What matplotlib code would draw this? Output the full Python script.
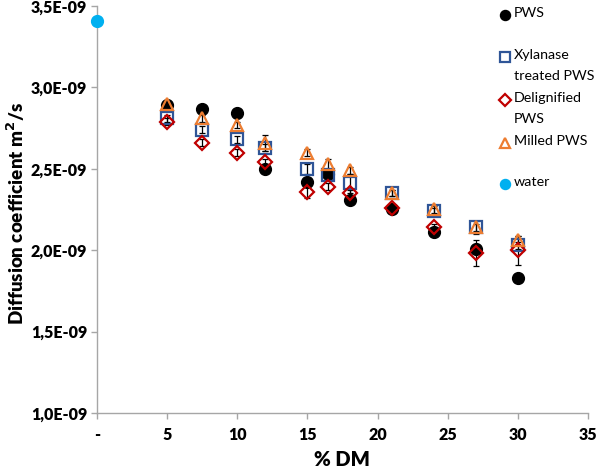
import matplotlib.pyplot as plt
from matplotlib.lines import Line2D
from matplotlib.ticker import FixedLocator, FixedFormatter

plt.rcParams['font.family'] = ['Lato', 'DejaVu Sans']

########################################
# data (diffusion coefficient, units of 1e-9 m2/s)

dm = [5, 7.5, 10, 12, 15, 16.5, 18, 21, 24, 27, 30]

pws = [2.89, 2.87, 2.84, 2.50, 2.42, 2.47, 2.31, 2.25, 2.11, 2.01, 1.83]
pws_err = [0.02, 0.01, 0.01, 0.01, 0.02, 0.02, 0.02, 0.01, 0.01, 0.03, 0.02]

xylanase = [2.81, 2.74, 2.68, 2.63, 2.50, 2.46, 2.41, 2.35, 2.24, 2.14, 2.03]
xylanase_err = [0.02, 0.02, 0.02, 0.02, 0.03, 0.02, 0.06, 0.02, 0.02, 0.02, 0.02]

delignified = [2.79, 2.66, 2.60, 2.54, 2.36, 2.39, 2.35, 2.26, 2.14, 1.98, 2.00]
delignified_err = [0.02, 0.02, 0.02, 0.02, 0.04, 0.02, 0.02, 0.02, 0.02, 0.08, 0.09]

milled = [2.90, 2.81, 2.77, 2.66, 2.60, 2.53, 2.49, 2.35, 2.25, 2.14, 2.06]
milled_err = [0.02, 0.02, 0.02, 0.05, 0.02, 0.03, 0.02, 0.02, 0.02, 0.04, 0.03]

water_x = [0]
water = [3.41]

labels = ['PWS', 'Xylanase\ntreated PWS', 'Delignified\nPWS', 'Milled PWS', 'water']

xticks = [0, 5, 10, 15, 20, 25, 30, 35]
xticklabels = ['-', '5', '10', '15', '20', '25', '30', '35']
yticks = [1.0e-9, 1.5e-9, 2.0e-9, 2.5e-9, 3.0e-9, 3.5e-9]
yticklabels = ['1,0E-09', '1,5E-09', '2,0E-09', '2,5E-09', '3,0E-09', '3,5E-09']

########################################
# styles

styles = [
    dict(marker='o', color='black', mfc='black', ms=8.5, mew=1.0),
    dict(marker='s', color='#2F5597', mfc='none', ms=8.5, mew=1.6),
    dict(marker='D', color='#C00000', mfc='none', ms=7, mew=1.6),
    dict(marker='^', color='#ED7D31', mfc='none', ms=9, mew=1.6),
    dict(marker='o', color='#00B0F0', mfc='#00B0F0', ms=8.5, mew=1.0),
]

def scale(v):
    return [a * 1e-9 for a in v]

fig = plt.figure(figsize=(5.98, 4.68), dpi=100)
ax = fig.add_axes([97/598, 1 - 413/468, (588-97)/598, (413-6)/468])

series = [(pws, pws_err), (xylanase, xylanase_err),
          (delignified, delignified_err), (milled, milled_err)]
for (vals, errs), st in zip(series, styles[:4]):
    ax.errorbar(dm, scale(vals), yerr=scale(errs), fmt='none',
                ecolor='black', elinewidth=0.9, capsize=2.5, capthick=0.9, zorder=2)
    ax.plot(dm, scale(vals), ls='none', marker=st['marker'], mec=st['color'],
            mfc=st['mfc'], ms=st['ms'], mew=st['mew'], zorder=3, clip_on=False)
ax.plot(water_x, scale(water), ls='none', marker='o', mec=styles[4]['color'],
        mfc=styles[4]['mfc'], ms=styles[4]['ms'], zorder=3, clip_on=False)

ax.set_xlim(0, 35)
ax.set_ylim(1.0e-9, 3.5e-9)
ax.xaxis.set_major_locator(FixedLocator(xticks))
ax.xaxis.set_major_formatter(FixedFormatter(xticklabels))
ax.yaxis.set_major_locator(FixedLocator(yticks))
ax.yaxis.set_major_formatter(FixedFormatter(yticklabels))

for s in ['top', 'right']:
    ax.spines[s].set_visible(False)
for s in ['left', 'bottom']:
    ax.spines[s].set_color('#A6A6A6')
    ax.spines[s].set_linewidth(1.0)
ax.tick_params(axis='both', direction='out', length=4, width=1.0, color='#A6A6A6',
               labelsize=11.5, pad=3)
ax.tick_params(axis='x', pad=6)
for t in ax.get_xticklabels() + ax.get_yticklabels():
    t.set_fontweight('heavy')

fig.text(16/598, 1 - 214/468, r'Diffusion coefficient m$^\mathbf{2}$/s', rotation=90,
         ha='center', va='center', fontsize=13.5, fontweight='heavy')
fig.text(342/598, 1 - 459/468, '% DM', ha='center', va='center',
         fontsize=14.5, fontweight='heavy')

########################################
# legend, drawn by hand like Excel does

leg_y = [15, 57, 100, 143, 184]
for lab, st, y in zip(labels, styles, leg_y):
    fig.add_artist(Line2D([505/598], [1 - y/468], transform=fig.transFigure,
                          ls='none', marker=st['marker'], mec=st['color'],
                          mfc=st['mfc'], ms=st['ms'] * 0.85, mew=st['mew']))
    fig.text(514/598, 1 - (y - 8)/468, lab, ha='left', va='top',
             fontsize=10.3, linespacing=1.9)

fig.savefig('out.png', dpi=100)
